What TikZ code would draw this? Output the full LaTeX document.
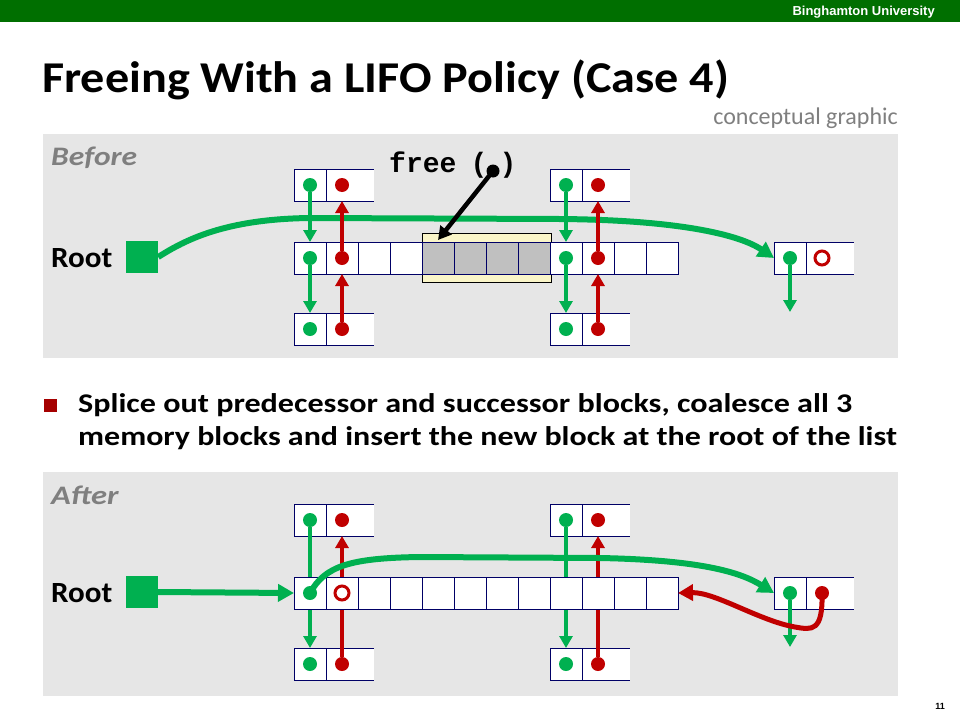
\documentclass[tikz,border=0pt]{standalone}
\usepackage{fontspec}
\setmainfont{Carlito}
\newfontfamily\monof{Liberation Mono}
\newfontfamily\arialf{Liberation Sans}
\usetikzlibrary{arrows.meta}
\definecolor{hdrgreen}{RGB}{0,111,0}
\definecolor{panelgray}{RGB}{230,230,230}
\definecolor{pgreen}{RGB}{0,176,80}
\definecolor{pred}{RGB}{192,0,0}
\definecolor{navy}{RGB}{0,0,102}
\definecolor{txtgray}{RGB}{127,127,127}
\definecolor{lyellow}{RGB}{250,245,200}
\definecolor{cellgray}{RGB}{192,192,192}
\definecolor{bulletred}{RGB}{165,0,0}
\tikzset{
  cell/.style={draw=navy, line width=1pt, fill=white, minimum width=32pt, minimum height=32pt, inner sep=0pt, outer sep=0pt},
  halfcell/.style={fill=white, minimum width=16pt, minimum height=32pt, inner sep=0pt, outer sep=0pt},
  gdot/.style={circle, fill=pgreen, minimum size=14pt, inner sep=0pt, outer sep=0pt},
  rdot/.style={circle, fill=pred, minimum size=14pt, inner sep=0pt, outer sep=0pt},
  bdot/.style={circle, fill=black, minimum size=13pt, inner sep=0pt, outer sep=0pt},
  rring/.style={circle, draw=pred, line width=3pt, fill=white, minimum size=14pt, inner sep=0pt, outer sep=0pt},
  garrow/.style={draw=pgreen, line width=4.5pt, -{Triangle[width=13pt,length=12pt]}},
  rarrow/.style={draw=pred, line width=4.5pt, -{Triangle[width=13pt,length=12pt]}},
  barrow/.style={draw=black, line width=4.5pt, -{Triangle[width=14pt,length=13pt]}},
  gcurve/.style={draw=pgreen, line width=6pt, -{Triangle[width=17pt,length=16pt]}},
  rcurve/.style={draw=pred, line width=5pt, -{Triangle[width=16pt,length=15pt]}},
  rootsq/.style={fill=pgreen, minimum size=32pt, inner sep=0pt},
  panel/.style={fill=panelgray, inner sep=0pt, anchor=north west},
  lbl/.style={anchor=base west, inner sep=0pt},
  rootlbl/.style={anchor=base west, inner sep=0pt, font=\bfseries\fontsize{29.3}{34}\selectfont},
  phase/.style={anchor=base west, inner sep=0pt, text=txtgray, font=\bfseries\itshape\fontsize{26.7}{31}\selectfont},
  bultxt/.style={anchor=base west, inner sep=0pt, font=\bfseries\fontsize{27}{32}\selectfont},
  monotxt/.style={inner sep=0pt, font=\monof\bfseries\fontsize{28}{32}\selectfont}
}
\newcommand{\smallblk}[3]{%
  \node[cell] (#10) at (#2,#3) {};
  \node[cell] (#11) at ({#2+32},#3) {};
  \node[halfcell] (#12) at ({#2+56},#3) {};
  \draw[navy,line width=1pt] (#12.north west) -- (#12.north east) (#12.south west) -- (#12.south east);
}
\begin{document}
\begin{tikzpicture}[x=1pt,y=-1pt]
\useasboundingbox (0,0) rectangle (960,720);
\fill[white] (0,0) rectangle (960,720);
% header
\node[fill=hdrgreen, minimum width=960pt, minimum height=22pt, inner sep=0pt, anchor=north west] (hdr) at (0,0) {};
\node[anchor=base east, inner sep=0pt, text=white, font=\arialf\bfseries\fontsize{13}{15}\selectfont] (uni) at (935,15.5) {Binghamton University};
\node[lbl, font=\bfseries\fontsize{44}{50}\selectfont] (title) at (42,92) {\scalebox{1.095}[1]{Freeing With a LIFO Policy (Case 4)}};
\node[anchor=base east, inner sep=0pt, text=txtgray, font=\fontsize{24}{28}\selectfont] (concept) at (898,124.5) {conceptual graphic};

% ================= BEFORE =================
\node[panel, minimum width=855pt, minimum height=224pt] (before) at (43,133.5) {};
\node[phase] (beforelbl) at (51,165) {\scalebox{1.18}[1]{Before}};
\node[rootlbl] (Brootlbl) at (51,267) {\scalebox{1.06}[1]{Root}};
\node[rootsq] (Broot) at (142,257) {};

% big green curve (behind)
\smallblk{BL}{790}{258}
\draw[gcurve] (Broot.east) .. controls (185,240) and (225,219) .. (310,218) -- (560,219) .. controls (680,220) and (740,235) .. (BL0.west);

% freed block highlight
\node[draw=black, line width=1pt, fill=lyellow, minimum width=129pt, minimum height=49pt, inner sep=0pt] (freed) at (486.5,257.5) {};
\foreach \i in {0,1,2,3,8,9,10,11} \node[cell] (Bm\i) at ({310+32*\i},258) {};
\foreach \i in {4,5,6,7} \node[cell, fill=cellgray] (Bm\i) at ({310+32*\i},258) {};

\smallblk{BTa}{310}{185}
\smallblk{BBa}{310}{329}
\smallblk{BTb}{566}{185}
\smallblk{BBb}{566}{329}

% dots
\node[gdot] (gBTa) at (BTa0) {};
\node[rdot] (rBTa) at (BTa1) {};
\node[gdot] (gBma) at (Bm0) {};
\node[rdot] (rBma) at (Bm1) {};
\node[gdot] (gBBa) at (BBa0) {};
\node[rdot] (rBBa) at (BBa1) {};
\node[gdot] (gBTb) at (BTb0) {};
\node[rdot] (rBTb) at (BTb1) {};
\node[gdot] (gBmb) at (Bm8) {};
\node[rdot] (rBmb) at (Bm9) {};
\node[gdot] (gBBb) at (BBb0) {};
\node[rdot] (rBBb) at (BBb1) {};
\node[gdot] (gBL) at (BL0) {};
\node[rring] (rBL) at (BL1) {};
\coordinate (BLtip) at (790,312);

% vertical links
\draw[garrow] (gBTa) -- (Bm0.north);
\draw[rarrow] (rBma) -- (BTa1.south);
\draw[garrow] (gBma) -- (BBa0.north);
\draw[rarrow] (rBBa) -- (Bm1.south);
\draw[garrow] (gBTb) -- (Bm8.north);
\draw[rarrow] (rBmb) -- (BTb1.south);
\draw[garrow] (gBmb) -- (BBb0.north);
\draw[rarrow] (rBBb) -- (Bm9.south);
\draw[garrow] (gBL) -- (BLtip);

% free( )
\node[monotxt, anchor=base west] (freetxt) at (389,172) {free};
\node[monotxt, anchor=base] (fopen) at (479,172) {(};
\node[monotxt, anchor=base] (fclose) at (508,172) {)};
\node[bdot] (fdot) at (493,171) {};
\coordinate (freetip) at (438,240);
\draw[barrow] (fdot.center) -- (freetip);

% ================= bullet =================
\node[fill=bulletred, minimum width=13pt, minimum height=13pt, inner sep=0pt] (bullet) at (50,405.5) {};
\node[bultxt] (bul1) at (78,412) {\scalebox{1.19}[1]{Splice out predecessor and successor blocks, coalesce all 3}};
\node[bultxt] (bul2) at (78,445) {\scalebox{1.184}[1]{memory blocks and insert the new block at the root of the list}};

% ================= AFTER =================
\node[panel, minimum width=855pt, minimum height=223.5pt] (after) at (43,472) {};
\node[phase] (afterlbl) at (51,504) {\scalebox{1.22}[1]{After}};
\node[rootlbl] (Arootlbl) at (51,602) {\scalebox{1.06}[1]{Root}};
\node[rootsq] (Aroot) at (142,592) {};

\smallblk{ATa}{310}{520}
\smallblk{ABa}{310}{664}
\smallblk{ATb}{566}{520}
\smallblk{ABb}{566}{664}
\smallblk{AL}{790}{593}

\node[gdot] (gATa) at (ATa0) {};
\node[rdot] (rATa) at (ATa1) {};
\node[gdot] (gABa) at (ABa0) {};
\node[rdot] (rABa) at (ABa1) {};
\node[gdot] (gATb) at (ATb0) {};
\node[rdot] (rATb) at (ATb1) {};
\node[gdot] (gABb) at (ABb0) {};
\node[rdot] (rABb) at (ABb1) {};

% vertical links (behind the merged block)
\draw[garrow] (gATa) -- (ABa0.north);
\draw[rarrow] (rABa) -- (ATa1.south);
\draw[garrow] (gATb) -- (ABb0.north);
\draw[rarrow] (rABb) -- (ATb1.south);

\foreach \i in {0,...,11} \node[cell] (Am\i) at ({310+32*\i},593) {};
\node[gdot] (gAm) at (Am0) {};
\node[rring] (rAm) at (Am1) {};

\draw[gcurve] (Aroot.east) -- (Am0.west);
\draw[gcurve] (gAm.center) .. controls (325,566) and (350,558) .. (420,557) -- (600,558) .. controls (700,560) and (740,572) .. (AL0.west);

\node[gdot] (gAL) at (AL0) {};
\node[rdot] (rAL) at (AL1) {};
\coordinate (ALtip) at (790,647);
\draw[garrow] (gAL) -- (ALtip);
\draw[rcurve] (rAL.center) .. controls (823,632) and (812,630) .. (795,627) .. controls (760,621) and (715,592) .. (Am11.east);

% page number
\node[anchor=base east, inner sep=0pt, font=\arialf\bfseries\fontsize{9}{10}\selectfont] (pnum) at (945,709) {11};
\end{tikzpicture}
\end{document}
